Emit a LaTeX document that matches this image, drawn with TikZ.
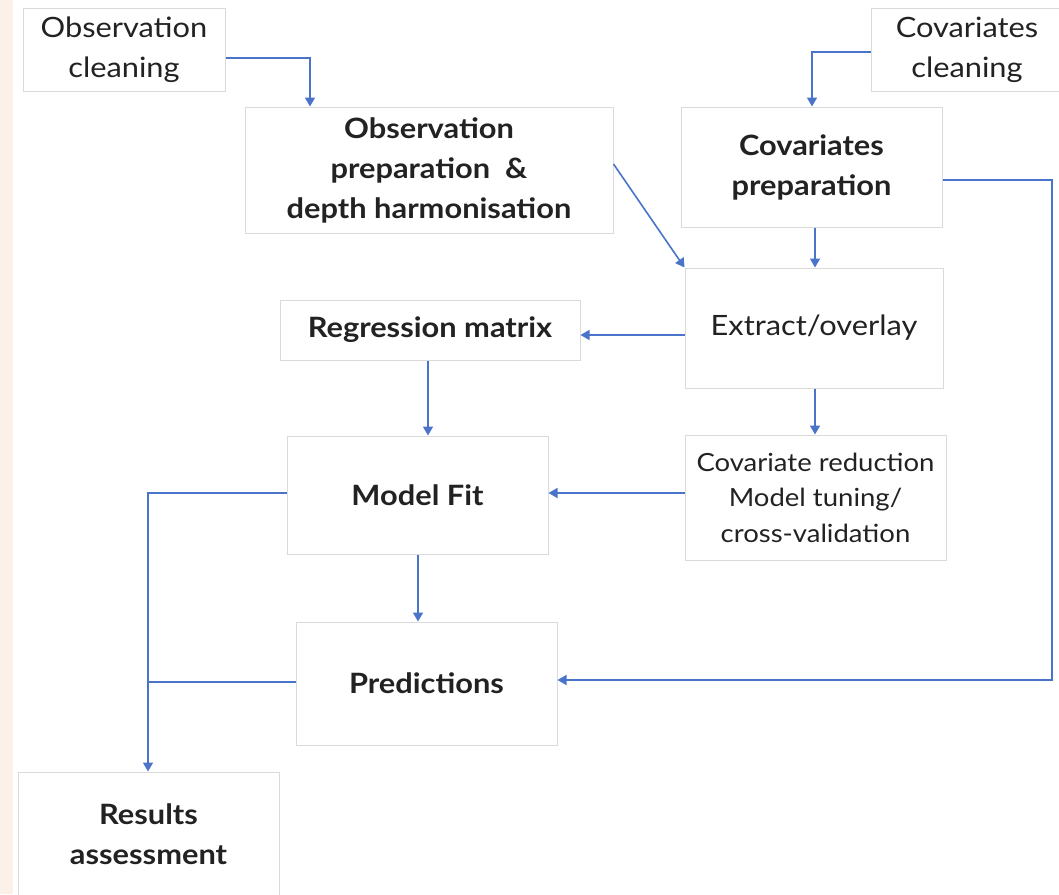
\documentclass[tikz,border=0pt]{standalone}
\usepackage{fontspec}
\setmainfont{Lato}[FakeStretch=1.1]
\usetikzlibrary{arrows.meta}
\definecolor{lineblue}{HTML}{4A74C9}
\definecolor{boxgray}{HTML}{DADADA}
\definecolor{txtgray}{HTML}{222222}
\definecolor{peach}{HTML}{FCF1E8}
\tikzset{
  box/.style={draw=boxgray, line width=1pt, fill=white, inner sep=0pt, align=center,
    text=txtgray, font=\fontsize{28}{40}\selectfont},
  boldbox/.style={box, font=\fontsize{28}{40}\selectfont\bfseries},
  smallbox/.style={box, font=\fontsize{25}{35.5}\selectfont},
  conn/.style={draw=lineblue, line width=1.6pt},
  arr/.style={conn, -{Triangle[width=10pt,length=9pt]}}
}
\begin{document}
\begin{tikzpicture}[x=1pt,y=-1pt]
\useasboundingbox (0,0) rectangle (1059,894);
\fill[white] (0,0) rectangle (1059,894);
\fill[peach] (0,0) rectangle (13,894);
\node[box, minimum width=202pt, minimum height=83pt] (oc) at (124,49.5) {Observation\\cleaning};
\node[box, minimum width=192pt, minimum height=83pt] (cc) at (967,49.5) {Covariates\\cleaning};
\node[boldbox, minimum width=368pt, minimum height=126pt] (op) at (429,170) {Observation\\preparation \ \&\\depth harmonisation};
\node[boldbox, minimum width=261pt, minimum height=120pt] (cp) at (811.5,167) {Covariates\\preparation};
\node[box, minimum width=258pt, minimum height=120pt] (eo) at (814,328) {Extract/overlay};
\node[boldbox, minimum width=300pt, minimum height=60pt] (rm) at (430,330) {Regression matrix};
\node[smallbox, minimum width=261pt, minimum height=125pt] (cr) at (815.5,497.5) {Covariate reduction\\Model tuning/\\cross-validation};
\node[boldbox, minimum width=261pt, minimum height=118pt] (mf) at (417.5,495) {Model Fit};
\node[boldbox, minimum width=261pt, minimum height=123pt] (pr) at (426.5,683.5) {Predictions};
\node[boldbox, minimum width=261pt, minimum height=124pt] (ra) at (148.5,834) {Results\\assessment};
% connectors
\coordinate (c1) at (310,58);
\draw[arr] (oc.east |- c1) -| (op.north -| c1);
\coordinate (c2) at (812,52);
\draw[arr] (cc.west |- c2) -| (cp.north -| c2);
\draw[arr] ([yshift=6pt]op.east) -- (eo.north west);
\coordinate (c3) at (815,0);
\draw[arr] (cp.south -| c3) -- (eo.north -| c3);
\coordinate (c4) at (1052,180);
\coordinate (c5) at (1052,680);
\draw[arr] (cp.east |- c4) -- (c4) -- (c5) -- (pr.east |- c5);
\coordinate (c6) at (0,335);
\draw[arr] (eo.west |- c6) -- (rm.east |- c6);
\coordinate (c7) at (428,0);
\draw[arr] (rm.south -| c7) -- (mf.north -| c7);
\draw[arr] (eo.south -| c3) -- (cr.north -| c3);
\coordinate (c8) at (0,493);
\draw[arr] (cr.west |- c8) -- (mf.east |- c8);
\coordinate (c9) at (418,0);
\draw[arr] (mf.south -| c9) -- (pr.north -| c9);
\coordinate (c10) at (148,493);
\draw[arr] (mf.west |- c10) -- (c10) -- (ra.north -| c10);
\coordinate (c11) at (148,682);
\draw[conn] (pr.west |- c11) -- (c11);
\end{tikzpicture}
\end{document}
